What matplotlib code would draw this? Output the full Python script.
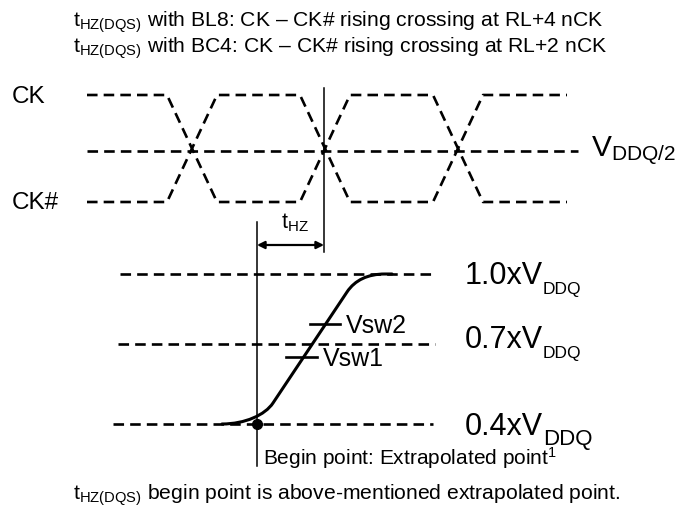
import matplotlib
matplotlib.use('Agg')
import matplotlib.pyplot as plt
from matplotlib.path import Path
from matplotlib.patches import PathPatch, FancyArrowPatch

plt.rcParams['font.family'] = ['Liberation Sans', 'DejaVu Sans']
plt.rcParams['mathtext.fontset'] = 'custom'
plt.rcParams['mathtext.rm'] = 'Liberation Sans'
plt.rcParams['mathtext.it'] = 'Liberation Sans:italic'
plt.rcParams['mathtext.bf'] = 'Liberation Sans:bold'
plt.rcParams['lines.scale_dashes'] = False

# ---------------- data ----------------
title_lines = [r't$_{\mathrm{HZ(DQS)}}$ with BL8: CK – CK# rising crossing at RL+4 nCK',
               r't$_{\mathrm{HZ(DQS)}}$ with BC4: CK – CK# rising crossing at RL+2 nCK']
footer = r't$_{\mathrm{HZ(DQS)}}$ begin point is above-mentioned extrapolated point.'

# clock waveform: time breakpoints and logic state (1 = high, 0 = low)
ck_t = [87, 167, 217, 300, 350, 433, 483, 567]
ck_state = [1, 1, 0, 0, 1, 1, 0, 0]
ckb_state = [1 - s for s in ck_state]
clk_high_y, clk_mid_y, clk_low_y = 95, 151, 202
mid_t = [87, 578]

# rising CK crossing reference and begin point
t_cross = 324
t_begin = 257

# voltage levels
level_names = ['1.0xV', '0.7xV', '0.4xV']
level_sub = ['DDQ', 'DDQ', 'DDQ']
level_y = [274, 344, 424]
level_x0 = [120, 118, 113]
level_x1 = [433, 435, 433]
label_base = [284, 348, 435]
sub_size = [12.5, 12.5, 16]

# DQS transition (Bezier control points)
curve_x = [222, 245, 265, 273, 347, 355, 368, 385, 392]
curve_y = [424, 424, 415, 403, 292, 280, 274, 274, 274]
curve_codes = [Path.MOVETO, Path.CURVE4, Path.CURVE4, Path.CURVE4,
               Path.LINETO, Path.CURVE4, Path.CURVE4, Path.CURVE4, Path.LINETO]

# Vsw markers (y, x0, x1)
vsw_names = ['Vsw2', 'Vsw1']
vsw_y = [324, 357]
vsw_x0 = [310, 286]
vsw_x1 = [340, 317]

# ---------------- figure ----------------
fig = plt.figure(figsize=(6.8, 5.11), dpi=100)
ax = fig.add_axes([0, 0, 1, 1])
ax.set_xlim(0, 680)
ax.set_ylim(511, 0)
ax.axis('off')

dash = (0, (7.6, 4.4))
lw_d = 1.9

def ymap(s):
    return clk_high_y if s else clk_low_y

ax.plot(ck_t, [ymap(s) for s in ck_state], color='black', lw=lw_d, linestyle=dash)
ax.plot(ck_t, [ymap(s) for s in ckb_state], color='black', lw=lw_d, linestyle=dash)
ax.plot(mid_t, [clk_mid_y, clk_mid_y], color='black', lw=lw_d, linestyle=dash)

# vertical reference lines
ax.plot([t_cross, t_cross], [88, 252], color='black', lw=1.1)
ax.plot([t_begin, t_begin], [222, 466], color='black', lw=1.1)

# tHZ arrow
arr = FancyArrowPatch((t_begin, 245), (t_cross, 245), arrowstyle='<|-|>',
                      mutation_scale=11, color='black', lw=1.6,
                      shrinkA=0, shrinkB=0)
ax.add_patch(arr)
ax.text(281, 223, r't$_{\mathrm{HZ}}$', fontsize=15.5, ha='left', va='center')

# level lines and labels
for name, sub, y, x0, x1, yb, ss in zip(level_names, level_sub, level_y, level_x0,
                                         level_x1, label_base, sub_size):
    ax.plot([x0, x1], [y, y], color='black', lw=lw_d, linestyle=dash)
    t = ax.annotate(name, (465, yb), fontsize=22, ha='left', va='baseline',
                    annotation_clip=False)
    ax.annotate(sub, xy=(1, 0), xycoords=t, xytext=(0, -2.2),
                textcoords='offset points', fontsize=ss, ha='left', va='baseline')

# transition curve
verts = list(zip(curve_x, curve_y))
ax.add_patch(PathPatch(Path(verts, curve_codes), fill=False, lw=2.2,
                       edgecolor='black', capstyle='round'))

# Vsw markers
for name, y, x0, x1 in zip(vsw_names, vsw_y, vsw_x0, vsw_x1):
    ax.plot([x0, x1], [y, y], color='black', lw=1.9)
    ax.text(x1 + 6, y + 2, name, fontsize=18, ha='left', va='center')

# begin point
ax.plot([t_begin], [level_y[2]], 'o', color='black', markersize=7)
ax.text(263, 458, r'Begin point: Extrapolated point$^{1}$', fontsize=15,
        ha='left', va='center')

# labels
ax.text(12, 97, 'CK', fontsize=17.5, ha='left', va='center')
ax.text(12, 203, 'CK#', fontsize=17.5, ha='left', va='center')
ax.text(591, 151, r'V$_{\mathrm{DDQ/2}}$', fontsize=21.5, ha='left', va='center')

ax.text(73, 22, title_lines[0], fontsize=15.2, ha='left', va='center')
ax.text(73, 48, title_lines[1], fontsize=15.2, ha='left', va='center')
ax.text(73, 495, footer, fontsize=15.2, ha='left', va='center')

fig.savefig('out.png', dpi=100)
